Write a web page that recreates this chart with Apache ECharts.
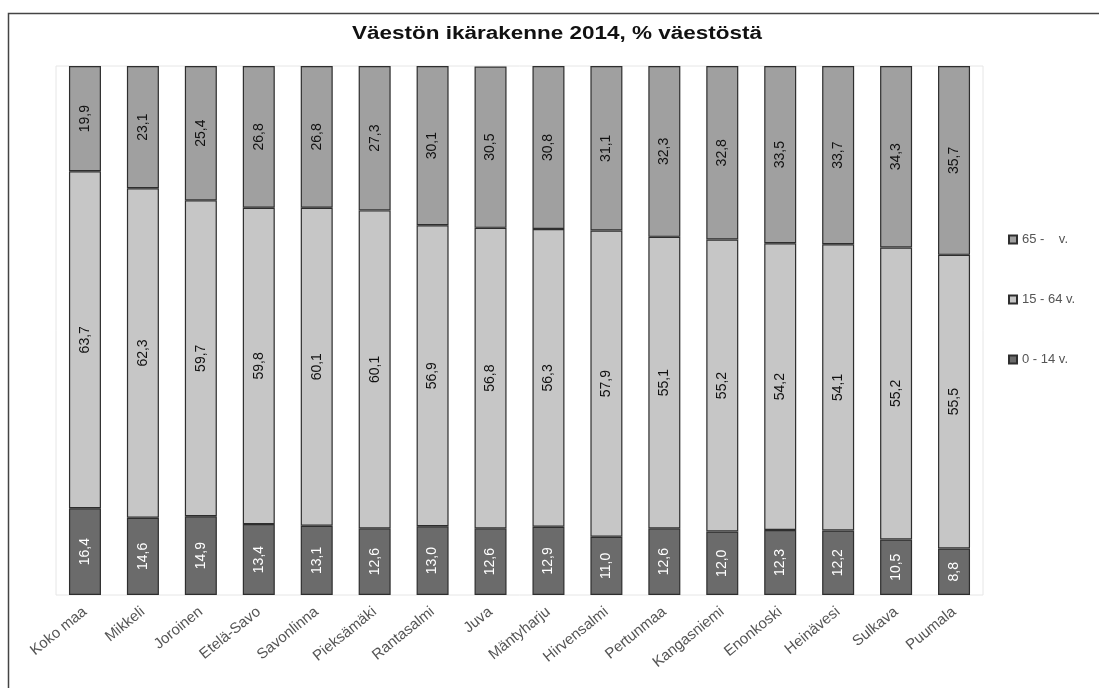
<!DOCTYPE html>
<html>
<head>
<meta charset="utf-8">
<script src="https://cdn.jsdelivr.net/npm/echarts@6/dist/echarts.min.js"></script>
<style>
  html, body { margin: 0; padding: 0; background: #fff; }
  #chart { width: 1099px; height: 688px; }
</style>
</head>
<body>
<div id="chart"></div>
<script>
// Age structure by municipality, 2014 (% of population)
const categories = ['Koko maa', 'Mikkeli', 'Joroinen', 'Etelä-Savo', 'Savonlinna', 'Pieksämäki',
  'Rantasalmi', 'Juva', 'Mäntyharju', 'Hirvensalmi', 'Pertunmaa', 'Kangasniemi',
  'Enonkoski', 'Heinävesi', 'Sulkava', 'Puumala'];
const age0to14  = [16.4, 14.6, 14.9, 13.4, 13.1, 12.6, 13.0, 12.6, 12.9, 11.0, 12.6, 12.0, 12.3, 12.2, 10.5, 8.8];
const age15to64 = [63.7, 62.3, 59.7, 59.8, 60.1, 60.1, 56.9, 56.8, 56.3, 57.9, 55.1, 55.2, 54.2, 54.1, 55.2, 55.5];
const age65plus = [19.9, 23.1, 25.4, 26.8, 26.8, 27.3, 30.1, 30.5, 30.8, 31.1, 32.3, 32.8, 33.5, 33.7, 34.3, 35.7];
const seriesNames = ['0 - 14 v.', '15 - 64 v.', '65 -    v.'];
const titleText = 'Väestön ikärakenne 2014, % väestöstä';

const FONT = 'Liberation Sans, Arial, sans-serif';
const fmt = p => p.value.toFixed(1).replace('.', ',');

function stackSeries(name, data, color, textColor) {
  return {
    name: name,
    type: 'bar',
    stack: 'age',
    data: data,
    barWidth: 32,
    itemStyle: { color: color, borderColor: '#2e2e2e', borderWidth: 1.2 },
    label: {
      show: true,
      position: 'inside',
      rotate: 90,
      formatter: fmt,
      color: textColor,
      fontFamily: FONT,
      fontSize: 14
    }
  };
}

const chart = echarts.init(document.getElementById('chart'), null, { renderer: 'canvas' });
chart.setOption({
  animation: false,
  backgroundColor: '#fff',
  graphic: [
    { type: 'polyline', shape: { points: [[8.5, 688], [8.5, 13.5], [1099, 13.5]] },
      style: { stroke: '#444', lineWidth: 1.5, fill: null } },
    { type: 'text', x: 557, y: 34, scaleX: 1.25, scaleY: 1,
      style: { text: titleText, align: 'center', verticalAlign: 'middle',
               font: 'bold 18px ' + FONT, fill: '#111' } }
  ],
  legend: {
    orient: 'vertical',
    left: 1003,
    top: 228,
    itemGap: 47,
    itemWidth: 8,
    itemHeight: 8,
    icon: 'rect',
    data: [seriesNames[2], seriesNames[1], seriesNames[0]],
    textStyle: { fontFamily: FONT, fontSize: 13, color: '#555' }
  },
  grid: {
    left: 56, right: 1099 - 983, top: 66, bottom: 688 - 595,
    show: true, borderColor: '#e6e6e6', borderWidth: 1
  },
  xAxis: {
    type: 'category',
    data: categories,
    axisLine: { show: false },
    axisTick: { show: false },
    axisLabel: {
      rotate: 39,
      interval: 0,
      margin: 15,
      fontFamily: FONT,
      fontSize: 15,
      color: '#555'
    }
  },
  yAxis: {
    type: 'value',
    min: 0,
    max: 100,
    show: false,
    splitLine: { show: false }
  },
  series: [
    stackSeries(seriesNames[0], age0to14, '#6b6b6b', '#fff'),
    stackSeries(seriesNames[1], age15to64, '#c6c6c6', '#111'),
    stackSeries(seriesNames[2], age65plus, '#a0a0a0', '#111')
  ]
});
</script>
</body>
</html>
